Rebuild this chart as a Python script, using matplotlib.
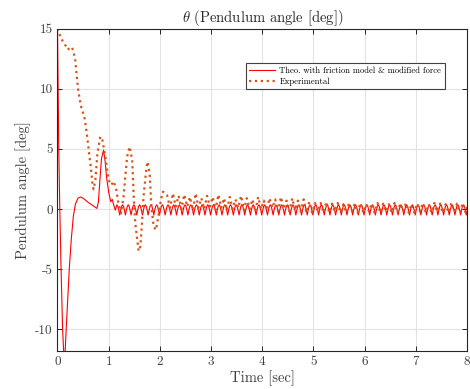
import numpy as np
import matplotlib
matplotlib.use("Agg")
import matplotlib.pyplot as plt

plt.rcParams['font.family'] = 'cmr10'
plt.rcParams['mathtext.fontset'] = 'cm'
plt.rcParams['axes.unicode_minus'] = False
plt.rcParams['axes.formatter.use_mathtext'] = False

# ---- data ----
# theoretical response: transient part
theo_t = [0.0, 0.012, 0.025, 0.045, 0.07, 0.1, 0.13, 0.15, 0.17, 0.2, 0.23, 0.27, 0.31,
          0.35, 0.4, 0.45, 0.5, 0.6, 0.7, 0.77, 0.8, 0.83, 0.86, 0.9, 0.93, 0.96, 1.0,
          1.04, 1.07, 1.1, 1.13]
theo_y = [15.0, 10.0, 5.0, 0.0, -5.0, -10.0, -12.6, -11.8, -10.0, -7.5, -5.0, -2.5, -0.6,
          0.4, 0.9, 1.0, 0.9, 0.55, 0.25, 0.05, 0.6, 2.5, 4.2, 4.9, 4.0, 2.6, 1.4,
          0.6, 0.8, 0.3, -0.1]
# theoretical response: steady limit cycle (one period, repeated)
theo_cycle = [0.35, 0.22, -0.1, -0.5, -0.1, 0.22]
theo_cycle_start = 1.16
theo_period = 0.111
theo_n_cycles = 62

# experimental response: transient part
exp_t = [0.0, 0.047, 0.086, 0.117, 0.164, 0.2, 0.25, 0.28, 0.31, 0.346, 0.366, 0.385,
         0.41, 0.444, 0.477, 0.52, 0.56, 0.61, 0.65, 0.69, 0.705, 0.74, 0.78, 0.835,
         0.87, 0.93, 1.0, 1.05, 1.1, 1.15, 1.19, 1.24, 1.29, 1.32, 1.36, 1.41, 1.46,
         1.49, 1.52, 1.585, 1.62, 1.65, 1.68, 1.74, 1.76, 1.8, 1.835, 1.88, 1.925,
         1.98, 2.02, 2.06, 2.14]
exp_y = [15.0, 14.44, 14.1, 13.8, 13.55, 13.25, 13.4, 13.47, 13.1, 12.4, 11.5, 10.7,
         9.7, 8.9, 8.2, 7.8, 6.7, 4.9, 3.5, 1.85, 1.63, 2.4, 4.6, 6.0,
         5.9, 4.5, 2.4, 2.0, 2.3, 1.58, 0.47, -0.36, 1.0, 2.4, 4.34, 5.17, 4.07,
         1.0, -1.19, -3.5, -3.1, -1.19, 1.0, 3.5, 3.93, 2.96, 0.19, -1.47, -1.74,
         -0.36, 0.75, 1.44, 1.16]
# experimental response: small oscillation after 2.2 s (trough / peak per cycle)
exp_tail_start = 2.2
exp_tail_period = 0.111
exp_tail_troughs = [0.1, 0.2, 0.0, 0.2, -0.1, 0.1, 0.0, 0.2, -0.1, 0.1, -0.1, 0.0, 0.1,
                    -0.1, 0.0, -0.2, 0.0, -0.1, 0.1, -0.2, 0.0, -0.2, -0.1, -0.2, -0.3,
                    -0.3, -0.2, -0.3, -0.3, -0.2, -0.3, -0.3, -0.2, -0.3, -0.3, -0.2,
                    -0.3, -0.3, -0.2, -0.3, -0.3, -0.2, -0.3, -0.3, -0.2, -0.3, -0.3,
                    -0.2, -0.3, -0.3, -0.2, -0.3, -0.3]
exp_tail_peaks = [1.3, 1.1, 1.2, 1.0, 1.3, 0.9, 1.1, 1.0, 1.2, 0.9, 1.0, 0.8, 1.1, 0.9,
                  0.8, 1.0, 0.7, 0.9, 0.8, 1.0, 0.7, 0.9, 0.7, 0.8, 0.6, 0.5, 0.5, 0.6,
                  0.45, 0.5, 0.4, 0.5, 0.45, 0.5, 0.4, 0.45, 0.5, 0.45, 0.4, 0.5, 0.45,
                  0.5, 0.4, 0.45, 0.5, 0.4, 0.5, 0.45, 0.4, 0.5, 0.45, 0.5, 0.45]

xticks = [0, 1, 2, 3, 4, 5, 6, 7, 8]
yticks = [-10, -5, 0, 5, 10, 15]
# -------------------------------------

# assemble full series
cyc = np.tile(theo_cycle, theo_n_cycles)
cyc_t = theo_cycle_start + np.arange(len(cyc)) * theo_period / len(theo_cycle)
t_theo = np.concatenate([theo_t, cyc_t])
y_theo = np.concatenate([theo_y, cyc])

tail = np.column_stack([exp_tail_troughs, exp_tail_peaks]).ravel()
tail_t = exp_tail_start + np.arange(len(tail)) * exp_tail_period / 2
t_exp = np.concatenate([exp_t, tail_t])
y_exp = np.concatenate([exp_y, tail])

fig = plt.figure(figsize=(4.70, 3.89), dpi=100)
ax = fig.add_axes([0.1223, 0.0977, 0.8713, 0.829])

ax.plot(t_theo, y_theo, color='#FF0000', lw=0.8,
        label='Theo. with friction model & modified force')
ax.plot(t_exp, y_exp, color='#D95319', lw=1.6, ls=':',
        label='Experimental')

ax.set_xlim(0, 8)
ax.set_ylim(-11.8, 15)
ax.set_xticks(xticks)
ax.set_yticks(yticks)

ax.grid(True, color='#e3e3e3', lw=0.8)
ax.set_axisbelow(True)
ax.tick_params(direction='in', top=True, right=True, length=3.5, width=0.7,
               colors='#262626', labelcolor='#404040', labelsize=9.5)
for s in ax.spines.values():
    s.set_color('#262626')
    s.set_linewidth(0.8)

ax.set_title(r'$\theta$ (Pendulum angle [deg])', fontsize=10.5, color='#262626', pad=5)
ax.set_xlabel('Time [sec]', fontsize=10.5, color='#404040', labelpad=2)
ax.set_ylabel('Pendulum angle [deg]', fontsize=10.5, color='#404040', labelpad=3)

leg = ax.legend(loc='upper left', bbox_to_anchor=(0.46, 0.894), fontsize=6.2,
                fancybox=False, framealpha=1, edgecolor='#404040',
                handlelength=3.0, borderpad=0.4, labelspacing=0.3,
                handletextpad=0.5, borderaxespad=0)
leg.get_frame().set_linewidth(0.8)

plt.savefig('out.png', dpi=100)
